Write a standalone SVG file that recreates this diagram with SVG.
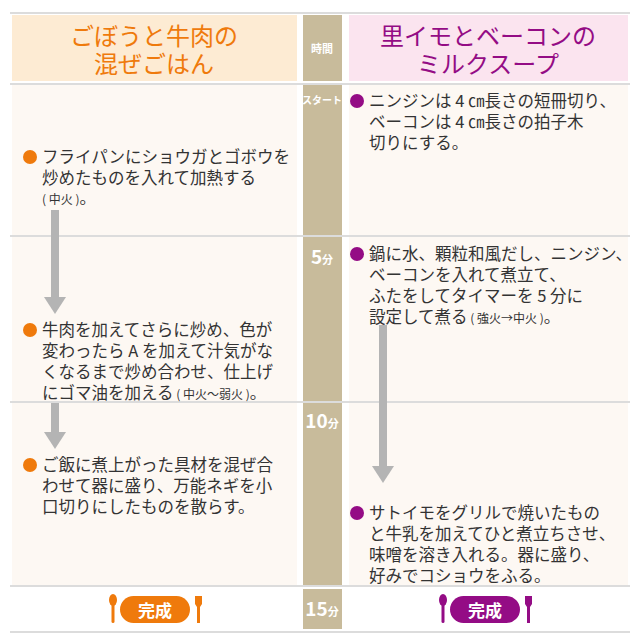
<svg xmlns="http://www.w3.org/2000/svg" width="640" height="643" viewBox="0 0 640 643">
<style>
.t{font-family:"Noto Sans CJK JP","Noto Sans",sans-serif;font-size:16.5px;fill:#333}
.s{font-size:12px}
.h{font-family:"Noto Sans CJK JP","Noto Sans",sans-serif;font-size:24px;text-anchor:middle}
.tm{font-family:"Noto Sans CJK JP","Noto Sans",sans-serif;fill:#fff;font-weight:bold;text-anchor:middle}
.ln{stroke:#dcdcdc;stroke-width:2}
.cell{fill:#fdf8f3}
.arr{fill:#b4b4b4}
.bo{fill:#ef7a0c}.bp{fill:#940c85}
</style>
<rect width="640" height="643" fill="#fff"/>
<g id="header">
<line class="ln" x1="10" y1="13" x2="630" y2="13"/>
<rect x="12" y="15" width="285" height="66" fill="#fdebd3"/>
<text class="h" x="154" y="45" fill="#ef7a0c">ごぼうと牛肉の</text>
<text class="h" x="154" y="73" fill="#ef7a0c">混ぜごはん</text>
<rect x="303" y="15" width="39" height="66" fill="#c8bb9b"/>
<text class="tm" x="322" y="53" font-size="11">時間</text>
<rect x="349" y="15" width="279" height="66" fill="#fbe4ef"/>
<text class="h" x="488" y="45" fill="#940c85">里イモとベーコンの</text>
<text class="h" x="488" y="73" fill="#940c85">ミルクスープ</text>
</g>
<g id="rows">
<rect class="cell" x="12" y="85" width="285" height="150"/>
<rect class="cell" x="349" y="85" width="279" height="150"/>
<rect class="cell" x="12" y="237" width="285" height="164"/>
<rect class="cell" x="349" y="237" width="279" height="164"/>
<rect class="cell" x="12" y="403" width="285" height="182"/>
<rect class="cell" x="349" y="403" width="279" height="182"/>
<rect x="303" y="85" width="39" height="150" fill="#c8bb9b"/>
<rect x="303" y="237" width="39" height="164" fill="#c8bb9b"/>
<rect x="303" y="403" width="39" height="182" fill="#c8bb9b"/>
<rect x="303" y="589" width="39" height="40" fill="#c8bb9b"/>
<line class="ln" x1="10" y1="84" x2="630" y2="84"/>
<line class="ln" x1="10" y1="236" x2="630" y2="236"/>
<line class="ln" x1="10" y1="402" x2="630" y2="402"/>
<line class="ln" x1="10" y1="586" x2="630" y2="586"/>
<line class="ln" x1="10" y1="632" x2="630" y2="632"/>
<text class="tm" x="322" y="104" font-size="10">スタート</text>
<text class="tm" x="322" y="264" font-size="19" font-weight="normal">5<tspan font-size="11" font-weight="bold">分</tspan></text>
<text class="tm" x="322" y="428" font-size="19" font-weight="normal">10<tspan font-size="11" font-weight="bold">分</tspan></text>
<text class="tm" x="322" y="616" font-size="19" font-weight="normal">15<tspan font-size="11" font-weight="bold">分</tspan></text>
</g>
<g id="connectors">
<rect class="arr" x="51" y="210" width="8" height="88"/><polygon class="arr" points="44,297 66,297 55,314"/>
<rect class="arr" x="51" y="403" width="8" height="30"/><polygon class="arr" points="44,432 66,432 55,449"/>
<rect class="arr" x="379" y="325" width="8" height="142"/><polygon class="arr" points="372,466 394,466 383,483"/>
</g>
<g id="left1"><circle class="bo" cx="30" cy="157" r="7"/>
<text class="t" x="42" y="163">フライパンにショウガとゴボウを</text>
<text class="t" x="42" y="184">炒めたものを入れて加熱する</text>
<text class="t" x="42" y="204"><tspan class="s">( 中火 )</tspan>。</text></g>
<g id="left2"><circle class="bo" cx="30" cy="330" r="7"/>
<text class="t" x="42" y="336">牛肉を加えてさらに炒め、色が</text>
<text class="t" x="42" y="357">変わったら A を加えて汁気がな</text>
<text class="t" x="42" y="378">くなるまで炒め合わせ、仕上げ</text>
<text class="t" x="42" y="399">にゴマ油を加える<tspan class="s"> ( 中火～弱火 )</tspan>。</text></g>
<g id="left3"><circle class="bo" cx="30" cy="465" r="7"/>
<text class="t" x="42" y="471">ご飯に煮上がった具材を混ぜ合</text>
<text class="t" x="42" y="492">わせて器に盛り、万能ネギを小</text>
<text class="t" x="42" y="513">口切りにしたものを散らす。</text></g>
<g id="right1"><circle class="bp" cx="357" cy="101" r="7"/>
<text class="t" x="369" y="107">ニンジンは 4 ㎝長さの短冊切り、</text>
<text class="t" x="369" y="128">ベーコンは 4 ㎝長さの拍子木</text>
<text class="t" x="369" y="149">切りにする。</text></g>
<g id="right2"><circle class="bp" cx="357" cy="254" r="7"/>
<text class="t" x="369" y="260">鍋に水、顆粒和風だし、ニンジン、</text>
<text class="t" x="369" y="281">ベーコンを入れて煮立て、</text>
<text class="t" x="369" y="302">ふたをしてタイマーを 5 分に</text>
<text class="t" x="369" y="323">設定して煮る<tspan class="s"> ( 強火→中火 )</tspan>。</text></g>
<g id="right3"><circle class="bp" cx="357" cy="513" r="7"/>
<text class="t" x="369" y="519">サトイモをグリルで焼いたもの</text>
<text class="t" x="369" y="540">と牛乳を加えてひと煮立ちさせ、</text>
<text class="t" x="369" y="561">味噌を溶き入れる。器に盛り、</text>
<text class="t" x="369" y="582">好みでコショウをふる。</text></g>
<g id="done-left">
<ellipse class="bo" cx="113" cy="600" rx="4" ry="6"/><rect class="bo" x="111.5" y="604" width="3" height="19" rx="1.5"/>
<rect class="bo" x="120" y="596" width="70" height="27" rx="13.5"/>
<text class="tm" x="155" y="617" font-size="17" font-weight="normal">完成</text>
<path class="bo" d="M195,596 h7 v8 l-2,3 v16 h-3 v-16 l-2,-3z"/>
</g>
<g id="done-right">
<ellipse class="bp" cx="443" cy="600" rx="4" ry="6"/><rect class="bp" x="441.5" y="604" width="3" height="19" rx="1.5"/>
<rect class="bp" x="450" y="596" width="70" height="27" rx="13.5"/>
<text class="tm" x="485" y="617" font-size="17" font-weight="normal">完成</text>
<path class="bp" d="M525,596 h7 v8 l-2,3 v16 h-3 v-16 l-2,-3z"/>
</g>
</svg>
